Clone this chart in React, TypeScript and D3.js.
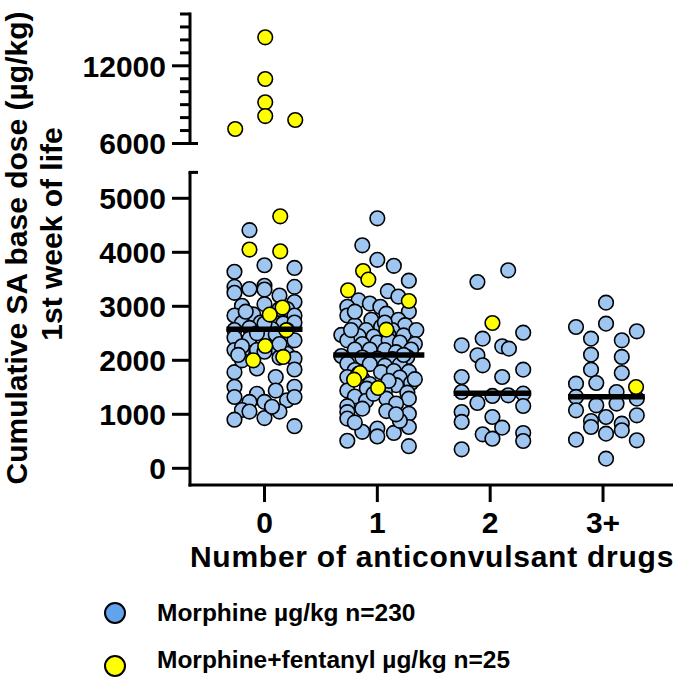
import React, { useEffect } from "react";
import * as d3 from "d3";

// ---------- data ----------
const categories = ["0", "1", "2", "3+"];
const medians = [2575, 2100, 1390, 1325];
const lowTicks = [0, 1000, 2000, 3000, 4000, 5000];
const highMajorTicks = [6000, 12000];
const highMinorTicks = [7000, 8000, 9000, 10000, 11000, 13000, 14000, 15000, 16000];
const legendLabels = ["Morphine µg/kg n=230", "Morphine+fentanyl µg/kg n=25"];

// [jitter slot, value µg/kg]
const morphineG0: [number, number][] = [
  [-2, 4410], [0, 3760], [4, 3710], [-4, 3640], [-4, 3360], [-4, 3250], [-2, 3320], [0, 3380],
  [0, 3310], [4, 3360], [2, 3200], [4, 3080], [-3, 3010], [0, 3040], [3, 2950], [-4, 2830],
  [-1.5, 2850], [1, 2800], [4, 2830], [-3, 2690], [-0.5, 2700], [2.5, 2680], [4, 2700], [-4, 2560],
  [-2, 2600], [1, 2580], [3, 2560], [-4, 2420], [-2, 2400], [0.5, 2430], [2.5, 2360], [4, 2370],
  [-4, 2190], [-3, 2150], [-1, 2190], [1, 2250], [3, 2120], [4, 2030], [-1, 1850], [4, 1830],
  [-4, 1780], [1.5, 1690], [-4, 1510], [1.5, 1440], [4, 1510], [-4, 1320], [-1, 1380], [-2, 1230],
  [0, 1230], [3, 1260], [4, 1320], [-3, 1080], [-2, 1050], [2, 1050], [0, 930], [-4, 900],
  [4, 780], [1, 1140], [-2.5, 2900], [2, 2950], [-3, 2260], [0, 2160], [2, 2050], [-3, 2000],
  [-1, 2500], [1.5, 2480], [-3.5, 2100], [2, 2300], [0, 2680],
];
const morphineG1: [number, number][] = [
  [0, 4630], [-2, 4130], [0, 3860], [2.2, 3750], [4.2, 3475], [1.4, 3280], [2.8, 3180], [-2.5, 3110],
  [-1, 3050], [0.4, 2990], [-4, 2990], [-4, 2830], [1.2, 2864], [4.2, 2900], [-0.8, 2750], [2.8, 2750],
  [3.7, 2650], [-3, 2650], [-1.5, 2560], [0.5, 2620], [2, 2560], [-4.8, 2470], [-2.5, 2450], [-0.5, 2440],
  [1.5, 2470], [3.5, 2460], [5.2, 2560], [-4, 2370], [-2, 2300], [0, 2330], [1.5, 2370], [3, 2330],
  [5, 2300], [-3, 2200], [-1, 2200], [1, 2190], [2.5, 2150], [4.5, 2200], [-4.8, 2080], [-2, 2050],
  [0, 2030], [2, 2020], [4, 2060], [-4, 1940], [-1, 1930], [1, 1900], [3, 1920], [-3, 1820],
  [0.5, 1780], [2.2, 1800], [4.2, 1790], [-4, 1690], [-2, 1660], [3, 1680], [-1, 1560], [2.5, 1540],
  [4.5, 1580], [-4, 1440], [-1.4, 1475], [1, 1420], [4, 1400], [-3, 1330], [1.2, 1290], [4.2, 1290],
  [-1.5, 1250], [2.5, 1200], [-4, 1150], [-2, 1105], [1.2, 1060], [4.2, 1010], [-4, 1040], [-4, 920],
  [4.2, 765], [-2, 675], [0, 735], [0, 590], [2.2, 655], [-4, 510], [4.2, 410], [-3, 850],
  [3, 880], [-0.5, 1380], [2.5, 1000], [1, 2700], [-3.5, 2560], [3.5, 2100], [-2.5, 1750], [1.5, 1620],
  [-3, 2900], [5, 1650],
];
const morphineG2: [number, number][] = [
  [-1.7, 3450], [2.4, 3667], [-1, 2401], [4.4, 2512], [-3.8, 2278], [1.6, 2259], [2.5, 2216], [-1.7, 2093],
  [-1, 1907], [-3.8, 1691], [1.6, 1691], [4.4, 1827], [-3.8, 1413], [0.3, 1340], [2.4, 1352], [4.4, 1383],
  [-1.7, 1210], [4.4, 1154], [-3.8, 1043], [-3.8, 858], [0.3, 950], [1.6, 753], [-1, 630], [0.3, 549],
  [4.4, 654], [4.4, 506], [-3.8, 352],
];
const morphineG3: [number, number][] = [
  [0.4, 3068], [-3.6, 2617], [0.4, 2679], [4.5, 2537], [-1.6, 2401], [2.5, 2370], [-1.6, 2105], [2.5, 2062],
  [-1.6, 1827], [2.5, 1765], [-3.6, 1568], [-0.9, 1580], [1.8, 1413], [-3.6, 1321], [4.5, 1290], [-0.9, 1167],
  [1.8, 1198], [-3.6, 1074], [4.5, 981], [0.4, 950], [-1.6, 876], [-1.6, 765], [2.5, 827], [2.5, 704],
  [0.4, 642], [-3.6, 531], [4.5, 518], [0.4, 179],
];
const fentanylG0: [number, number][] = [
  [2.1, 4667], [-2, 4050], [2.1, 4018], [2.4, 2976], [0.7, 2846], [2.9, 2556], [0.1, 2265], [-1.5, 2000],
  [2.5, 2062], [0.1, 14200], [0.1, 10980], [0.1, 9180], [0.1, 8120], [4.1, 7815], [-3.9, 7120],
];
const fentanylG1: [number, number][] = [
  [-1.9, 3654], [-1.2, 3494], [-3.9, 3296], [4.2, 3098], [1.2, 2568], [-2.3, 1765], [-3.1, 1642], [0.1, 1487],
];
const fentanylG2: [number, number][] = [[0.3, 2691]];
const fentanylG3: [number, number][] = [[4.4, 1506]];

const morphineGroups = [morphineG0, morphineG1, morphineG2, morphineG3];
const fentanylGroups = [fentanylG0, fentanylG1, fentanylG2, fentanylG3];

// ---------- layout ----------
const W = 686;
const H = 678;
const SLOT = 0.0665;
const FONT = "'Liberation Sans', Arial, sans-serif";
const BLUE = "#9ec6f0";
const BLUE_LEG = "#62a4ec";
const YELLOW = "#ffff00";
const R = 7.3;

export default function App() {
  useEffect(() => {
    document.body.style.margin = "0";
  }, []);

  const x = d3.scaleLinear().domain([-0.66, 3.62]).range([190, 673]);
  const yLow = d3.scaleLinear().domain([0, 5000]).range([468.3, 198.3]);
  const yHigh = d3.scaleLinear().domain([6000, 16000]).range([143.5, 14]);
  const yv = (v: number) => (v >= 5800 ? yHigh(v) : yLow(v));
  const axisX = x(-0.66);
  const xAxisY = yLow(-310);
  const lowTop = yLow(5480);
  const legendY = [613, 666];
  const legendBase = [621, 668];

  const px = (g: number, s: number) => x(g + s * SLOT);

  return (
    <svg width={W} height={H} style={{ display: "block", background: "#fff" }} fontFamily={FONT} fontWeight="bold">
      {/* y-axis title */}
      <text transform={`translate(27, 248) rotate(-90)`} textAnchor="middle" fontSize={30}>
        Cumulative SA base dose (µg/kg)
      </text>
      <text transform={`translate(62, 234) rotate(-90)`} textAnchor="middle" fontSize={30}>
        1st week of life
      </text>

      {/* upper y segment */}
      <line x1={axisX} x2={axisX} y1={yHigh(16000) - 1.5} y2={yHigh(6000) + 1.5} stroke="#000" strokeWidth={3} />
      {highMajorTicks.map((t) => (
        <g key={"hm" + t}>
          <line x1={axisX - 18} x2={axisX} y1={yHigh(t)} y2={yHigh(t)} stroke="#000" strokeWidth={3} />
          <text x={166} y={yHigh(t)} dy="0.36em" textAnchor="end" fontSize={30}>{t}</text>
        </g>
      ))}
      {highMinorTicks.map((t) => (
        <line key={"hn" + t} x1={axisX - 10} x2={axisX} y1={yHigh(t)} y2={yHigh(t)} stroke="#000" strokeWidth={3} />
      ))}
      <line x1={axisX} x2={axisX + 8} y1={yHigh(6000)} y2={yHigh(6000)} stroke="#000" strokeWidth={3} />

      {/* lower y segment */}
      <line x1={axisX} x2={axisX} y1={lowTop} y2={xAxisY + 1.5} stroke="#000" strokeWidth={3} />
      <line x1={axisX - 1.5} x2={axisX + 8} y1={lowTop} y2={lowTop} stroke="#000" strokeWidth={3} />
      {lowTicks.map((t) => (
        <g key={"l" + t}>
          <line x1={axisX - 18} x2={axisX} y1={yLow(t)} y2={yLow(t)} stroke="#000" strokeWidth={3} />
          <text x={166} y={yLow(t)} dy="0.36em" textAnchor="end" fontSize={30}>{t}</text>
        </g>
      ))}

      {/* x axis */}
      <line x1={axisX - 1.5} x2={x(3.62)} y1={xAxisY} y2={xAxisY} stroke="#000" strokeWidth={3} />
      {categories.map((c, i) => (
        <g key={"x" + c}>
          <line x1={x(i)} x2={x(i)} y1={xAxisY} y2={xAxisY + 17} stroke="#000" strokeWidth={3} />
          <text x={x(i)} y={533} textAnchor="middle" fontSize={30}>{c}</text>
        </g>
      ))}
      <text x={432} y={567} textAnchor="middle" fontSize={30} letterSpacing={0.75}>Number of anticonvulsant drugs</text>

      {/* points */}
      {morphineGroups.map((g, gi) =>
        g.map(([s, v], k) => (
          <circle key={`m${gi}-${k}`} cx={px(gi, s)} cy={yv(v)} r={R} fill={BLUE} stroke="#000" strokeWidth={1.6} />
        ))
      )}
      {fentanylGroups.map((g, gi) =>
        g.map(([s, v], k) => (
          <circle key={`f${gi}-${k}`} cx={px(gi, s)} cy={yv(v)} r={R} fill={YELLOW} stroke="#000" strokeWidth={1.6} />
        ))
      )}

      {/* medians */}
      {medians.map((m, gi) => {
        const slots = [...morphineGroups[gi], ...fentanylGroups[gi]].filter((d) => d[1] < 5800).map((d) => d[0]);
        const lo = px(gi, d3.min(slots) as number) - 8;
        const hi = px(gi, d3.max(slots) as number) + 8;
        return <line key={"med" + gi} x1={lo} x2={hi} y1={yLow(m)} y2={yLow(m)} stroke="#000" strokeWidth={5.5} />;
      })}

      {/* legend */}
      {legendLabels.map((l, i) => (
        <g key={"lg" + i}>
          <circle cx={115} cy={legendY[i]} r={10} fill={i === 0 ? BLUE_LEG : YELLOW} stroke="#000" strokeWidth={2} />
          <text x={157} y={legendBase[i]} fontSize={24.5}>{l}</text>
        </g>
      ))}
    </svg>
  );
}
